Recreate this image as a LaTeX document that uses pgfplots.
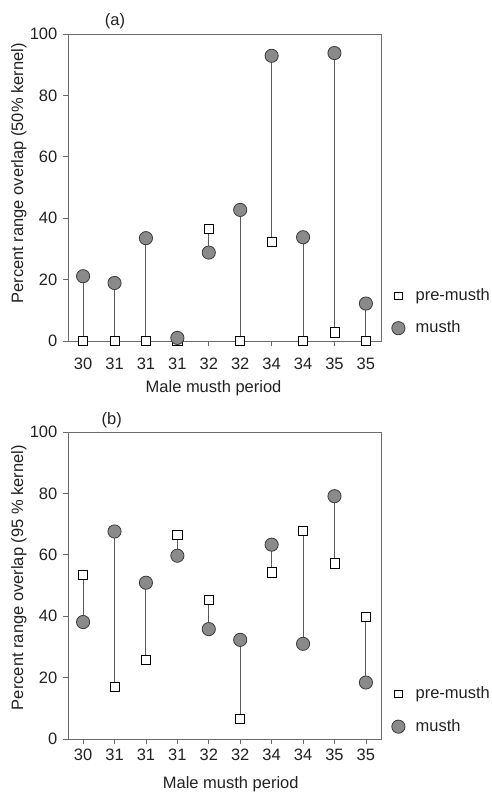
\documentclass[border=0pt]{standalone}
\usepackage{fontspec}
\setmainfont{Liberation Sans}
\usepackage{pgfplots}
\pgfplotsset{compat=1.18}
\definecolor{musthfill}{HTML}{8A8A8A}
\definecolor{musthedge}{HTML}{3A3A3A}
\definecolor{stemcol}{HTML}{5A5A5A}
\definecolor{framecol}{HTML}{6A6A6A}
\definecolor{txt}{HTML}{222222}
\pgfplotsset{
  panel/.style={
    scale only axis, width=313bp, height=307bp,
    anchor=south west,
    xmin=-0.48, xmax=9.48, ymin=0, ymax=100,
    xtick={0,...,9},
    xticklabels={30,31,31,31,32,32,34,34,35,35},
    ytick={0,20,40,60,80,100},
    tick pos=left, tick align=outside,
    major tick length=5bp,
    axis line style={framecol, line width=0.8bp},
    every tick/.style={framecol, line width=0.8bp},
    /pgf/number format/assume math mode=true,
    unbounded coords=jump,
    every axis label/.append style={text=txt},
    tick label style={text=txt},
    title style={anchor=center, text=txt},
    legend style={draw=none, fill=none, anchor=west, text=txt,
      inner sep=0pt, row sep=18bp, column sep=7bp,
      nodes={inner sep=0pt}},
    legend cell align=left,
  },
  premark/.style={only marks, mark=square*, mark size=4.6bp,
    mark options={fill=white, draw=black, line width=0.7bp},
    legend image code/.code={%
      \draw[##1, mark size=3.6bp] plot coordinates {(0bp,0bp)};
      \path (-7bp,0bp) (10bp,0bp);}},
  musthmark/.style={only marks, mark=*, mark size=6.6bp,
    mark options={fill=musthfill, draw=musthedge, line width=0.8bp},
    legend image code/.code={%
      \draw[##1, mark size=6.6bp] plot coordinates {(0bp,0bp)};
      \path (-7bp,0bp) (10bp,0bp);}},
  stem/.style={no marks, stemcol, line width=0.9bp, forget plot},
}
\begin{document}
\fontsize{16.5bp}{19.8bp}\selectfont
\begin{tikzpicture}
\useasboundingbox (0,0) rectangle (492bp,792bp);
% panel (a)
\begin{axis}[panel, at={(68bp,451bp)},
  title={(a)}, title style={at={(0.15,1)}, yshift=7bp},
  xlabel={Male musth period},
  xlabel style={at={(axis description cs:0.465,-0.153)}, anchor=center},
  ylabel={Percent range overlap (50\% kernel)},
  ylabel style={at={(axis description cs:-0.157,0.546)}, anchor=center},
  xticklabel style={yshift=-6bp},
  legend style={at={(1.032,0.0945)}},
]
\addplot[stem] coordinates {
 (0,0) (0,21.1) (0,nan)
 (1,0) (1,18.9) (1,nan)
 (2,0) (2,33.5) (2,nan)
 (3,0) (3,1.0) (3,nan)
 (4,36.6) (4,28.8) (4,nan)
 (5,0) (5,42.7) (5,nan)
 (6,32.4) (6,92.9) (6,nan)
 (7,0) (7,33.8) (7,nan)
 (8,2.8) (8,93.8) (8,nan)
 (9,0) (9,12.2)
};
\addplot[premark] coordinates {
 (0,0) (1,0) (2,0) (3,0) (4,36.6) (5,0) (6,32.4) (7,0) (8,2.8) (9,0)
};
\addlegendentry{pre-musth}
\addplot[musthmark] coordinates {
 (0,21.1) (1,18.9) (2,33.5) (3,1.0) (4,28.8) (5,42.7) (6,92.9) (7,33.8) (8,93.8) (9,12.2)
};
\addlegendentry{musth}
\end{axis}
% panel (b)
\begin{axis}[panel, at={(68bp,53bp)},
  title={(b)}, title style={at={(0.14,1)}, yshift=6bp},
  xlabel={Male musth period},
  xlabel style={at={(axis description cs:0.52,-0.146)}, anchor=center},
  ylabel={Percent range overlap (95 \% kernel)},
  ylabel style={at={(axis description cs:-0.157,0.526)}, anchor=center},
  xticklabel style={yshift=1bp},
  legend style={at={(1.032,0.093)}},
]
\addplot[stem] coordinates {
 (0,53.5) (0,38.1) (0,nan)
 (1,16.9) (1,67.6) (1,nan)
 (2,25.7) (2,50.9) (2,nan)
 (3,66.6) (3,59.7) (3,nan)
 (4,45.3) (4,35.8) (4,nan)
 (5,6.6) (5,32.3) (5,nan)
 (6,54.3) (6,63.3) (6,nan)
 (7,67.7) (7,31.0) (7,nan)
 (8,57.2) (8,79.1) (8,nan)
 (9,39.9) (9,18.4)
};
\addplot[premark] coordinates {
 (0,53.5) (1,16.9) (2,25.7) (3,66.6) (4,45.3) (5,6.6) (6,54.3) (7,67.7) (8,57.2) (9,39.9)
};
\addlegendentry{pre-musth}
\addplot[musthmark] coordinates {
 (0,38.1) (1,67.6) (2,50.9) (3,59.7) (4,35.8) (5,32.3) (6,63.3) (7,31.0) (8,79.1) (9,18.4)
};
\addlegendentry{musth}
\end{axis}
\end{tikzpicture}
\end{document}
